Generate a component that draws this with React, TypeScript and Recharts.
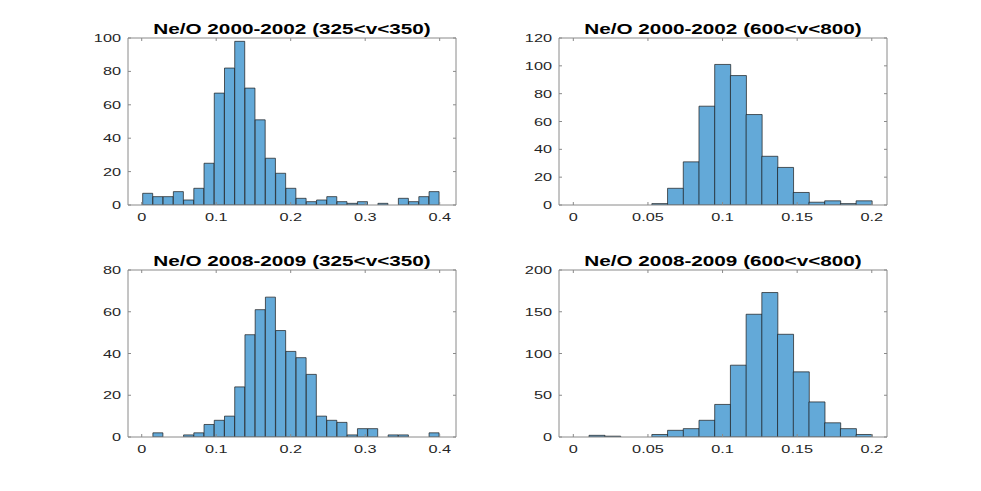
import React from 'react'
import { BarChart, Bar, XAxis, YAxis } from 'recharts'

const FONT = '"Liberation Sans", Arial, Helvetica, sans-serif'
const STRETCH = 1.48
const AXIS_COLOR = '#8a8a8a'
const TEXT_COLOR = '#262626'
const BAR_COLOR = '#63a9d8'
const EDGE_COLOR = '#1a1a1a'

// histogram bins (left edge of first bin, bin width)
const slowBinStart = 0.0013
const slowBinWidth = 0.01373
const fastBinStart = 0.0105
const fastBinWidth = 0.01053

// counts per bin
const counts2000Slow = [7, 5, 5, 8, 3, 10, 25, 67, 82, 98, 70, 51, 28, 19, 10, 4, 2, 3, 5, 2, 1, 2, 0, 1, 0, 4, 2, 5, 8]
const counts2000Fast = [0, 0, 0, 0, 1, 12, 31, 71, 101, 93, 65, 35, 27, 9, 2, 3, 1, 3]
const counts2008Slow = [0, 2, 0, 0, 1, 2, 6, 8, 10, 24, 49, 61, 67, 51, 41, 38, 30, 10, 8, 7, 1, 4, 4, 0, 1, 1, 0, 0, 2]
const counts2008Fast = [2, 1, 0, 0, 3, 8, 10, 20, 39, 86, 147, 173, 123, 78, 42, 17, 10, 3]

const slowTicks = [0, 0.1, 0.2, 0.3, 0.4]
const fastTicks = [0, 0.05, 0.1, 0.15, 0.2]
const yTicks2000Slow = [0, 20, 40, 60, 80, 100]
const yTicks2000Fast = [0, 20, 40, 60, 80, 100, 120]
const yTicks2008Slow = [0, 20, 40, 60, 80]
const yTicks2008Fast = [0, 50, 100, 150, 200]

const titles = [
  'Ne/O 2000-2002 (325<v<350)',
  'Ne/O 2000-2002 (600<v<800)',
  'Ne/O 2008-2009 (325<v<350)',
  'Ne/O 2008-2009 (600<v<800)',
]

const toBins = (counts: number[], start: number, width: number) =>
  counts.map((count, i) => ({ center: start + (i + 0.5) * width, count }))

const PLOT_W = 328
const PLOT_H = 167
const Y_AXIS_W = 45
const X_AXIS_H = 25
const PAD = 5

const panels = [
  { title: titles[0], data: toBins(counts2000Slow, slowBinStart, slowBinWidth), xDomain: [-0.0184, 0.4219], xTicks: slowTicks, yTicks: yTicks2000Slow, left: 128, top: 38 },
  { title: titles[1], data: toBins(counts2000Fast, fastBinStart, fastBinWidth), xDomain: [-0.0096, 0.2102], xTicks: fastTicks, yTicks: yTicks2000Fast, left: 559, top: 38 },
  { title: titles[2], data: toBins(counts2008Slow, slowBinStart, slowBinWidth), xDomain: [-0.0184, 0.4219], xTicks: slowTicks, yTicks: yTicks2008Slow, left: 128, top: 270 },
  { title: titles[3], data: toBins(counts2008Fast, fastBinStart, fastBinWidth), xDomain: [-0.0096, 0.2102], xTicks: fastTicks, yTicks: yTicks2008Fast, left: 559, top: 270 },
]

const label = (x: number, y: number, anchor: 'middle' | 'end', value: any) => (
  <text
    transform={`translate(${x},${y}) scale(${STRETCH},1)`}
    textAnchor={anchor}
    fontSize={11}
    fill={TEXT_COLOR}
    fontFamily={FONT}
  >
    {value}
  </text>
)

const BottomTick = (props: any) => {
  const { x, y, payload } = props
  return (
    <g>
      <line x1={x} y1={y} x2={x} y2={y - 3} stroke={AXIS_COLOR} />
      {label(x, y + 15.7, 'middle', payload.value)}
    </g>
  )
}

const TopTick = (props: any) => {
  const { x, y } = props
  return <line x1={x} y1={y} x2={x} y2={y + 3} stroke={AXIS_COLOR} />
}

const LeftTick = (props: any) => {
  const { x, y, payload } = props
  return (
    <g>
      <line x1={x} y1={y} x2={x + 3} y2={y} stroke={AXIS_COLOR} />
      {label(x - 7, y + 4, 'end', payload.value)}
    </g>
  )
}

const RightTick = (props: any) => {
  const { x, y } = props
  return <line x1={x} y1={y} x2={x - 3} y2={y} stroke={AXIS_COLOR} />
}

function Histogram({ panel }: { panel: (typeof panels)[number] }) {
  const yDomain = [0, panel.yTicks[panel.yTicks.length - 1]]
  return (
    <div style={{ position: 'absolute', left: panel.left - Y_AXIS_W, top: panel.top - PAD }}>
      <BarChart
        width={Y_AXIS_W + PLOT_W + PAD}
        height={PAD + PLOT_H + X_AXIS_H}
        data={panel.data}
        margin={{ top: PAD - 1, right: PAD - 1, bottom: 0, left: 0 }}
        barCategoryGap={0}
        barGap={0}
      >
        <XAxis
          dataKey="center"
          type="number"
          domain={panel.xDomain}
          ticks={panel.xTicks}
          allowDataOverflow
          interval={0}
          height={X_AXIS_H}
          tickSize={0}
          tickMargin={0}
          tick={BottomTick}
          axisLine={{ stroke: AXIS_COLOR }}
        />
        <XAxis
          xAxisId="top"
          orientation="top"
          dataKey="center"
          type="number"
          domain={panel.xDomain}
          ticks={panel.xTicks}
          allowDataOverflow
          interval={0}
          height={1}
          tickSize={0}
          tickMargin={0}
          tick={TopTick}
          axisLine={{ stroke: AXIS_COLOR }}
        />
        <YAxis
          type="number"
          domain={yDomain}
          ticks={panel.yTicks}
          allowDataOverflow
          interval={0}
          width={Y_AXIS_W}
          tickSize={0}
          tickMargin={0}
          tick={LeftTick}
          axisLine={{ stroke: AXIS_COLOR }}
        />
        <YAxis
          yAxisId="right"
          orientation="right"
          type="number"
          domain={yDomain}
          ticks={panel.yTicks}
          allowDataOverflow
          interval={0}
          width={1}
          tickSize={0}
          tickMargin={0}
          tick={RightTick}
          axisLine={{ stroke: AXIS_COLOR }}
        />
        <Bar
          dataKey="count"
          fill={BAR_COLOR}
          stroke={EDGE_COLOR}
          strokeWidth={0.7}
          isAnimationActive={false}
        />
      </BarChart>
    </div>
  )
}

export default function App() {
  return (
    <div style={{ position: 'absolute', left: 0, top: 0, width: 981, height: 491, background: '#ffffff' }}>
      {panels.map((p) => (
        <Histogram key={p.title} panel={p} />
      ))}
      <svg width={981} height={491} style={{ position: 'absolute', left: 0, top: 0, pointerEvents: 'none' }}>
        {panels.map((p) => (
          <text
            key={p.title}
            transform={`translate(${p.left + PLOT_W / 2},${p.top - 4.3}) scale(${STRETCH},1)`}
            textAnchor="middle"
            fontSize={14}
            fontWeight="bold"
            fontFamily={FONT}
            fill="#000000"
          >
            {p.title}
          </text>
        ))}
      </svg>
    </div>
  )
}
